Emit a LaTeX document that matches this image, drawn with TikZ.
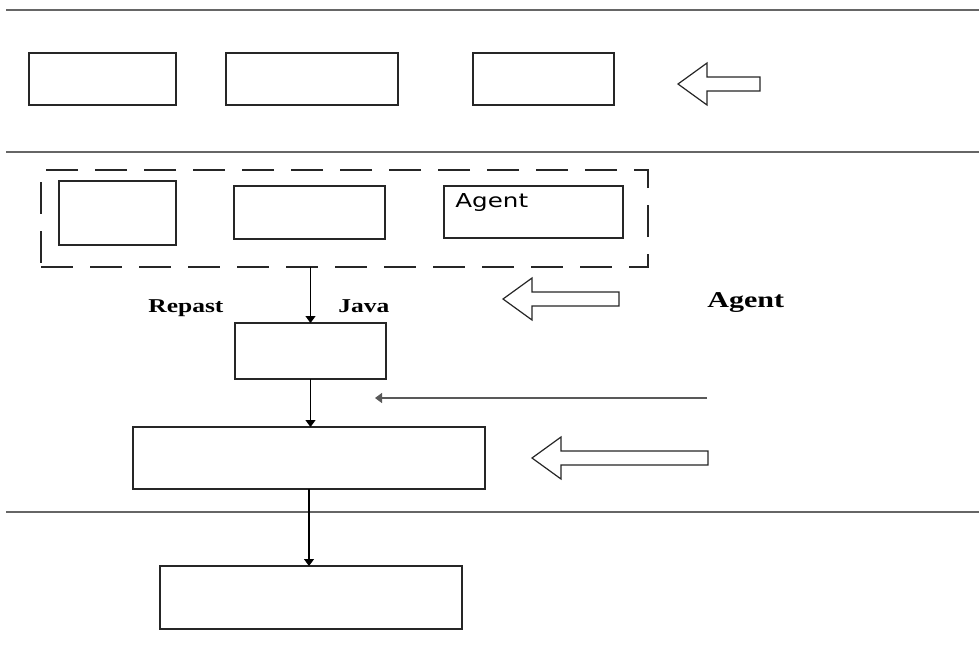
\documentclass[tikz,border=0pt]{standalone}
\usepackage{fontspec}
\usepackage{graphicx}
\setmainfont{Liberation Serif}
\newfontfamily\boxfont{DejaVu Sans}
\usetikzlibrary{arrows.meta}

% hollow block arrow pointing left: tip x, tip y, tail x (pixel units)
\newcommand\hollowarrow[3]{%
  \draw[black!85,line width=0.6pt,fill=white]
    (#1,#2) -- (#1+29,#2-21) -- (#1+29,#2-7) -- (#3,#2-7)
    -- (#3,#2+7) -- (#1+29,#2+7) -- (#1+29,#2+21) -- cycle;}

\tikzset{
  box/.style={draw=black!85,line width=0.6pt,inner sep=0pt,outer sep=0pt},
  layer/.style={black!60,line width=0.8pt},
  flow/.style={-{Triangle[length=3.5pt,width=5pt]},line width=0.6pt},
}

\begin{document}
\begin{tikzpicture}[x=0.5pt,y=-0.5pt]
\useasboundingbox (0,0) rectangle (979,655);

% layer separators
\draw[layer] (6,10) -- (979,10);
\draw[layer] (6,152) -- (979,152);
\draw[layer] (6,512) -- (979,512);

% top row
\node[box,minimum width=73.5pt,minimum height=26pt] (t1) at (102.5,79) {};
\node[box,minimum width=86pt,minimum height=26pt] (t2) at (312,79) {};
\node[box,minimum width=70.5pt,minimum height=26pt] (t3) at (543.5,79) {};
\hollowarrow{678}{84}{760}

% agent layer
\node[box,dash pattern=on 16pt off 8.5pt,minimum width=303.5pt,minimum height=48.5pt] (group) at (344.5,218.5) {};
\node[box,minimum width=58.5pt,minimum height=32pt] (m1) at (117.5,213) {};
\node[box,minimum width=75.5pt,minimum height=26.5pt] (m2) at (309.5,212.5) {};
\node[box,minimum width=89.5pt,minimum height=26pt] (m3) at (533.5,212) {};
\node[anchor=base west,inner sep=0pt] (agenttxt) at (455,207) {\scalebox{1.28}[1]{\boxfont\fontsize{9.6pt}{11pt}\selectfont Agent}};

\node[anchor=base west,inner sep=0pt] (repast) at (148,312) {\scalebox{1.3}[1]{\fontsize{9.8pt}{11pt}\selectfont\bfseries Repast}};
\node[anchor=base west,inner sep=0pt] (java) at (338,312) {\scalebox{1.3}[1]{\fontsize{9.8pt}{11pt}\selectfont\bfseries Java}};
\hollowarrow{503}{299}{619}
\node[anchor=base west,inner sep=0pt] (agentlbl) at (707,307) {\scalebox{1.33}[1]{\fontsize{11.3pt}{13pt}\selectfont\bfseries Agent}};

% lower boxes
\node[box,minimum width=75.5pt,minimum height=28pt] (b1) at (310.5,351) {};
\node[box,minimum width=176pt,minimum height=31pt] (b2) at (309,458) {};
\node[box,minimum width=151pt,minimum height=31.5pt] (b3) at (311,597.5) {};

\coordinate (in1) at (707,398);
\coordinate (in2) at (375,398);
\draw[flow,black!65] (in1) -- (in2);
\hollowarrow{532}{458}{708}

\draw[flow] (b1.north |- group.south) -- (b1.north);
\draw[flow] (b1.south) -- (b1.south |- b2.north);
\draw[flow] (b2.south) -- (b2.south |- b3.north);
\end{tikzpicture}
\end{document}
